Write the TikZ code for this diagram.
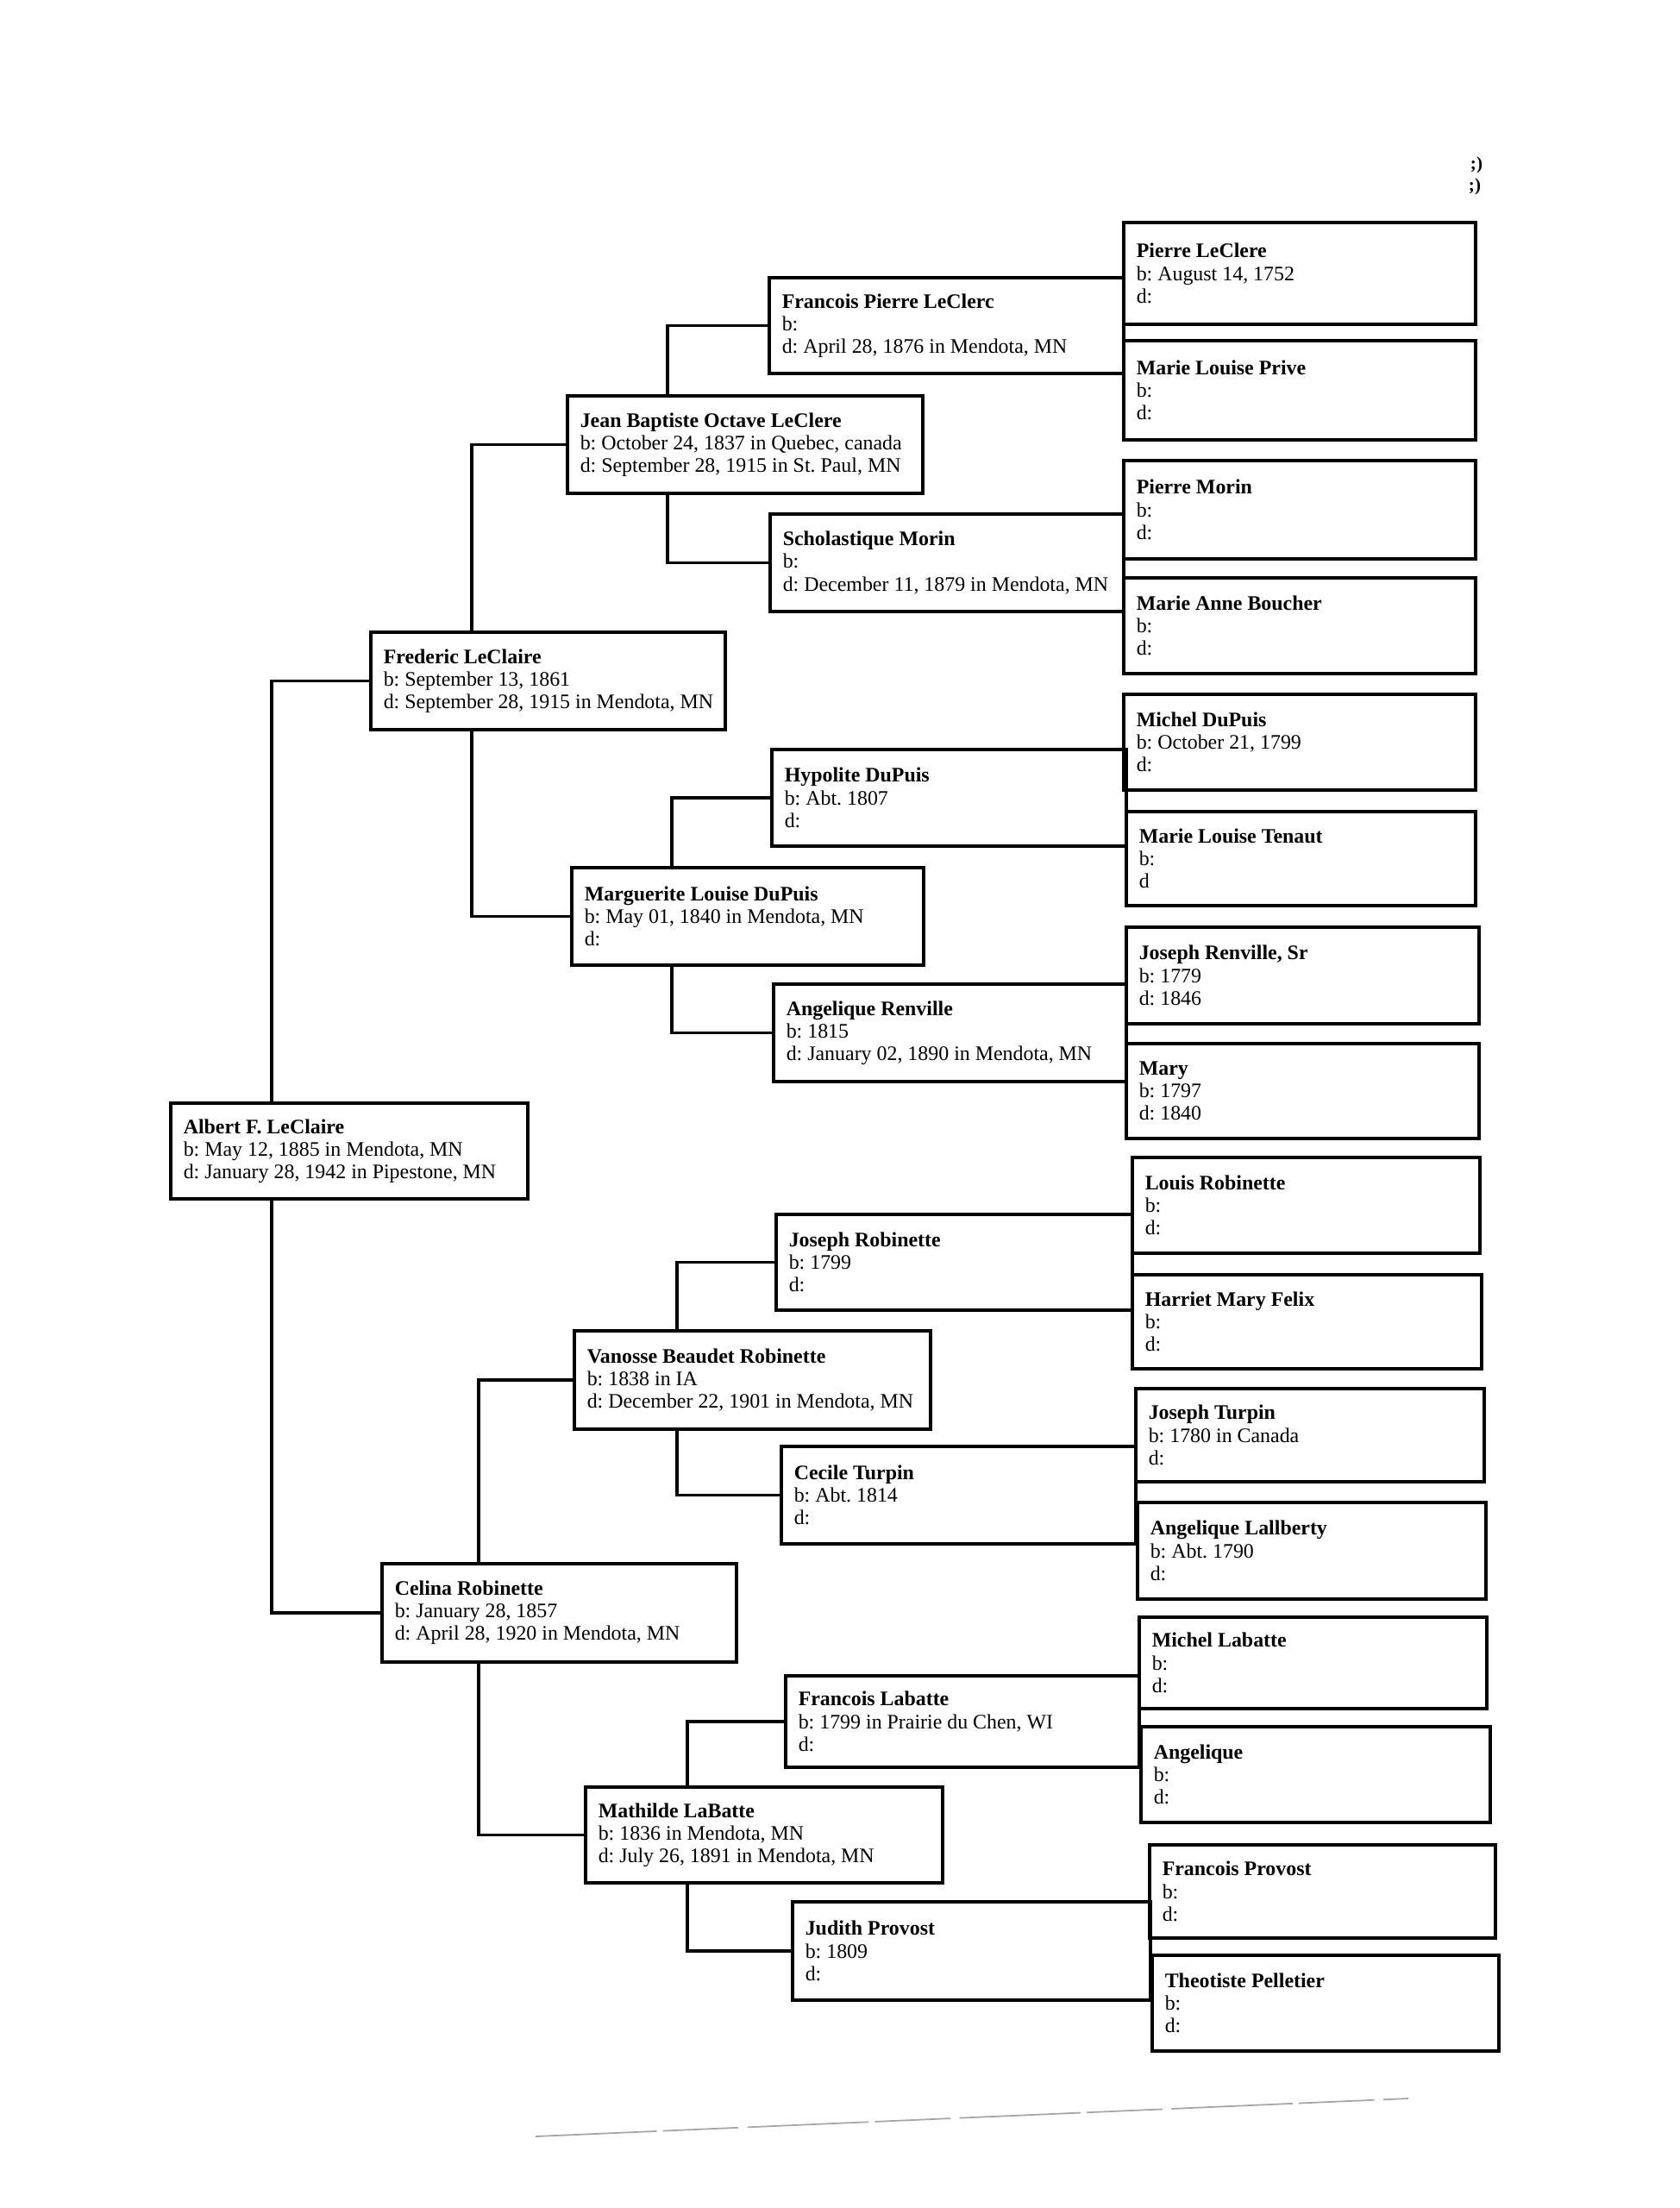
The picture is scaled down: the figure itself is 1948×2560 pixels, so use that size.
\documentclass[tikz,border=0pt]{standalone}
\usepackage{fontspec}
\setmainfont{Liberation Serif}
\newcommand\pbx[8]{%
  \pgfmathsetmacro\bw{(#4-#2)*0.1}%
  \pgfmathsetmacro\bh{(#5-#3)*0.1}%
  \node[pbox, minimum width=\bw mm, minimum height=\bh mm]
    (#1) at ({(#2+#4)/2},{(#3+#5)/2}) {};
  \node[ptext] (#1-t) at ([xshift=1.6mm]#1.west) {\textbf{#6}\\#7\\#8};}
\begin{document}
\frenchspacing
\begin{tikzpicture}[x=0.1mm,y=-0.1mm,
  pbox/.style={draw, line width=1.1pt, rectangle, inner sep=0pt},
  ptext/.style={anchor=west, inner sep=0pt, align=left,
    font=\fontsize{6.8}{7.45}\selectfont},
  conn/.style={line width=0.9pt},
  scanmark/.style={font=\bfseries\fontsize{6}{6}\selectfont, inner sep=0pt},
  scanline/.style={gray!70, line width=0.5pt, dash pattern=on 40pt off 2pt on 25pt off 3pt}]
\useasboundingbox (0,0) rectangle (1948,2560);

% generation 1-3
\pbx{albert}{198}{1279}{612}{1390}{Albert F. LeClaire}{b: May 12, 1885 in Mendota, MN}{d: January 28, 1942 in Pipestone, MN}
\pbx{fred}{430}{733}{841}{846}{Frederic LeClaire}{b: September 13, 1861}{d: September 28, 1915 in Mendota, MN}
\pbx{celina}{443}{1813}{854}{1927}{Celina Robinette}{b: January 28, 1857}{d: April 28, 1920 in Mendota, MN}
\pbx{jean}{658}{459}{1070}{572}{Jean Baptiste Octave LeClere}{b: October 24, 1837 in Quebec, canada}{d: September 28, 1915 in St. Paul, MN}
\pbx{marg}{663}{1006}{1071}{1119}{Marguerite Louise DuPuis}{b: May 01, 1840 in Mendota, MN}{d:}
\pbx{vanosse}{666}{1543}{1079}{1657}{Vanosse Beaudet Robinette}{b: 1838 in IA}{d: December 22, 1901 in Mendota, MN}
\pbx{mathilde}{679}{2072}{1093}{2183}{Mathilde LaBatte}{b: 1836 in Mendota, MN}{d: July 26, 1891 in Mendota, MN}

% generation 4
\pbx{fpierre}{892}{322}{1303}{433}{Francois Pierre LeClerc}{b:}{d: April 28, 1876 in Mendota, MN}
\pbx{schol}{893}{596}{1303}{709}{Scholastique Morin}{b:}{d: December 11, 1879 in Mendota, MN}
\pbx{hypo}{895}{869}{1306}{981}{Hypolite DuPuis}{b: Abt. 1807}{d:}
\pbx{angr}{897}{1141}{1306}{1254}{Angelique Renville}{b: 1815}{d: January 02, 1890 in Mendota, MN}
\pbx{josr}{900}{1408}{1313}{1519}{Joseph Robinette}{b: 1799}{d:}
\pbx{cecile}{906}{1677}{1317}{1790}{Cecile Turpin}{b: Abt. 1814}{d:}
\pbx{flab}{911}{1943}{1321}{2049}{Francois Labatte}{b: 1799 in Prairie du Chen, WI}{d:}
\pbx{judith}{919}{2205}{1334}{2319}{Judith Provost}{b: 1809}{d:}

% generation 5
\pbx{pa}{1303}{258}{1711}{376}{Pierre LeClere}{b: August 14, 1752}{d:}
\pbx{pb}{1303}{395}{1711}{510}{Marie Louise Prive}{b:}{d:}
\pbx{pc}{1303}{534}{1711}{648}{Pierre Morin}{b:}{d:}
\pbx{pd}{1303}{670}{1711}{781}{Marie Anne Boucher}{b:}{d:}
\pbx{pe}{1303}{805}{1711}{916}{Michel DuPuis}{b: October 21, 1799}{d:}
\pbx{pf}{1306}{941}{1711}{1050}{Marie Louise Tenaut}{b:}{d}
\pbx{pg}{1306}{1075}{1715}{1187}{Joseph Renville, Sr}{b: 1779}{d: 1846}
\pbx{ph}{1306}{1210}{1715}{1320}{Mary}{b: 1797}{d: 1840}
\pbx{pi}{1313}{1342}{1716}{1453}{Louis Robinette}{b:}{d:}
\pbx{pj}{1313}{1478}{1718}{1587}{Harriet Mary Felix}{b:}{d:}
\pbx{pk}{1317}{1610}{1721}{1718}{Joseph Turpin}{b: 1780 in Canada}{d:}
\pbx{pl}{1319}{1742}{1723}{1854}{Angelique Lallberty}{b: Abt. 1790}{d:}
\pbx{pm}{1321}{1875}{1724}{1981}{Michel Labatte}{b:}{d:}
\pbx{pn}{1323}{2002}{1728}{2113}{Angelique}{b:}{d:}
\pbx{po}{1333}{2139}{1734}{2247}{Francois Provost}{b:}{d:}
\pbx{pp}{1336}{2267}{1738}{2378}{Theotiste Pelletier}{b:}{d:}

% connector columns
\coordinate (xA) at (315,0);
\coordinate (xB) at (547,0);
\coordinate (xC) at (555,0);
\coordinate (xD) at (774,0);
\coordinate (xE) at (779,0);
\coordinate (xF) at (785,0);
\coordinate (xG) at (797,0);

\draw[conn] (albert.north -| xA) |- (fred.west);
\draw[conn] (albert.south -| xA) |- (celina.west);
\draw[conn] (fred.north -| xB) |- (jean.west);
\draw[conn] (fred.south -| xB) |- (marg.west);
\draw[conn] (celina.north -| xC) |- (vanosse.west);
\draw[conn] (celina.south -| xC) |- (mathilde.west);
\draw[conn] (jean.north -| xD) |- (fpierre.west);
\draw[conn] (jean.south -| xD) |- (schol.west);
\draw[conn] (marg.north -| xE) |- (hypo.west);
\draw[conn] (marg.south -| xE) |- (angr.west);
\draw[conn] (vanosse.north -| xF) |- (josr.west);
\draw[conn] (vanosse.south -| xF) |- (cecile.west);
\draw[conn] (mathilde.north -| xG) |- (flab.west);
\draw[conn] (mathilde.south -| xG) |- (judith.west);

% scan marks
\node[scanmark] (mk1) at (1712,191) {;)};
\node[scanmark] (mk2) at (1710,216) {;)};
\coordinate (sl1) at (621,2477);
\coordinate (sl2) at (1633,2433);
\draw[scanline] (sl1) -- (sl2);
\end{tikzpicture}
\end{document}
